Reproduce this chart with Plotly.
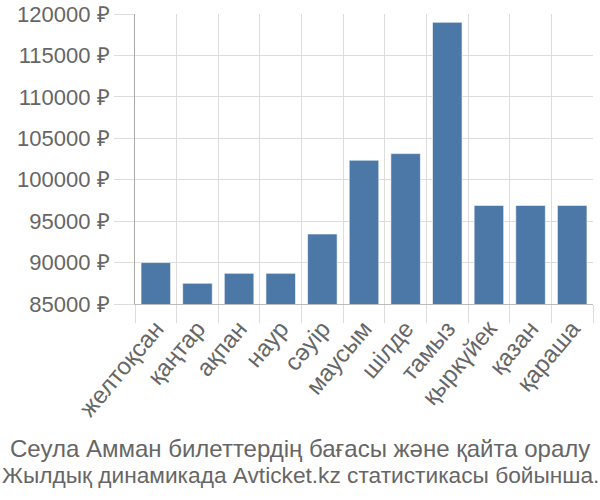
import plotly.graph_objects as go

months = ["желтоқсан", "қаңтар", "ақпан", "наур", "сәуір", "маусым",
          "шілде", "тамыз", "қыркүйек", "қазан", "қараша"]
prices = [90000, 87500, 88700, 88700, 93450, 102350, 103150, 119000, 96900, 96900, 96900]
ytick_vals = [85000, 90000, 95000, 100000, 105000, 110000, 115000, 120000]
ytick_text = [f"{v} ₽" for v in ytick_vals]
title_lines = ["Сеула Амман билеттердің бағасы және қайта оралу",
               "Жылдық динамикада Avticket.kz статистикасы бойынша."]

fig = go.Figure(go.Bar(
    x=months, y=prices,
    marker=dict(color="#4c78a8", line=dict(color="rgba(255,255,255,0.6)", width=1)),
))

fig.update_layout(
    width=600, height=500,
    margin=dict(l=135, r=7, t=14, b=196),
    paper_bgcolor="white", plot_bgcolor="white",
    bargap=0.29,
    showlegend=False,
    font=dict(family="Liberation Sans, Arial, sans-serif", color="#666666"),
)
fig.update_xaxes(
    tickson="boundaries", ticks="outside", ticklen=18, tickcolor="#dddddd",
    showgrid=True, gridcolor="#dddddd", gridwidth=1,
    showline=True, linecolor="#bbbbbb", linewidth=1,
    tickangle=-50, tickfont=dict(size=24, color="#666666"), automargin=False,
)
fig.update_yaxes(
    range=[85000, 120000], tickvals=ytick_vals, ticktext=ytick_text,
    ticks="outside", ticklen=20, tickcolor="#dddddd",
    showgrid=True, gridcolor="#dddddd", gridwidth=1,
    showline=True, linecolor="#aaaaaa", linewidth=1,
    tickfont=dict(size=22, color="#666666"), zeroline=False, automargin=False,
)
title_sizes = [24, 22.7]
title_y = [448, 475]
for line, size, yc in zip(title_lines, title_sizes, title_y):
    fig.add_annotation(text=line, xref="paper", yref="paper",
                       x=(300 - 135) / 458, y=(304 - yc) / 290,
                       xanchor="center", yanchor="middle", showarrow=False,
                       font=dict(size=size, color="#666666"))

fig.write_html("out.html")
